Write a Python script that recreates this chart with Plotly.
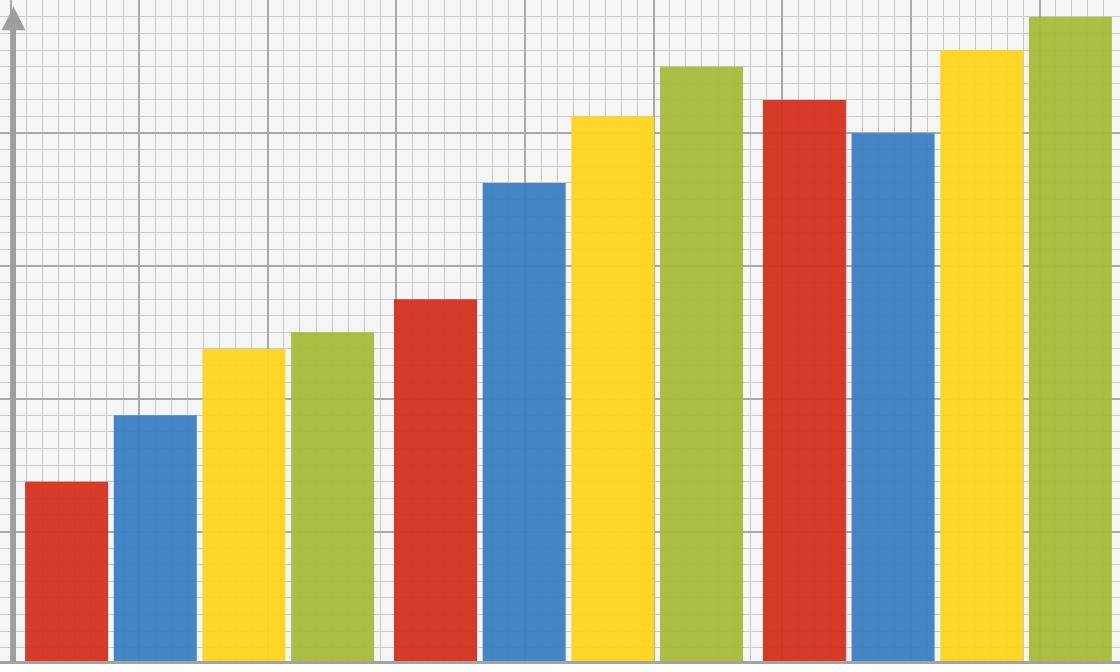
import plotly.graph_objects as go

groups = ["A", "B", "C"]
series_names = ["Red", "Blue", "Yellow", "Green"]
series_values = [
    [11, 22, 34],   # red
    [15, 29, 32],   # blue
    [19, 33, 37],   # yellow
    [20, 36, 39],   # green
]
series_colors = ["#d42f1e", "#3a80c2", "#fdd51c", "#a6bb38"]

fig = go.Figure()

for name, vals, col in zip(series_names, series_values, series_colors):
    fig.add_trace(go.Bar(
        x=groups, y=vals, name=name,
        marker=dict(color=col, line=dict(width=0)),
        opacity=0.95,
        showlegend=False,
        hoverinfo="skip",
    ))

# dummy trace so the overlaid grid axis is drawn
fig.add_trace(go.Scatter(x=[None], y=[None], xaxis="x2", showlegend=False,
                         hoverinfo="skip"))

grid_minor = "#c9c9c9"
grid_major = "#a8a8a8"

fig.update_layout(
    width=1120, height=672,
    margin=dict(l=0, r=0, t=0, b=11),
    paper_bgcolor="#ffffff",
    plot_bgcolor="#f5f5f5",
    barmode="group",
    bargap=0.0385,
    bargroupgap=0.064,
    xaxis=dict(
        range=[-0.5411, 2.4950],
        showgrid=False, showticklabels=False, ticks="",
        showline=True, linecolor="#a3a3a3", linewidth=3,
        zeroline=False, fixedrange=True,
    ),
    xaxis2=dict(
        overlaying="x", anchor="y",
        range=[-0.653, 69.0],
        showgrid=True, gridcolor=grid_major, gridwidth=1.6, dtick=8, tick0=0,
        minor=dict(showgrid=True, gridcolor=grid_minor, gridwidth=1.3, dtick=1),
        showticklabels=False, ticks="", zeroline=False, showline=False,
    ),
    yaxis=dict(
        range=[0.2, 40.02],
        showgrid=True, gridcolor=grid_major, gridwidth=1.6, dtick=8, tick0=0,
        minor=dict(showgrid=True, gridcolor=grid_minor, gridwidth=1.3, dtick=1),
        showticklabels=False, ticks="", zeroline=False, showline=False,
    ),
)

# vertical axis drawn as an arrow
fig.add_annotation(
    xref="paper", yref="paper",
    x=13.5 / 1120, y=0.99,
    ax=0, ay=657,
    text="", showarrow=True,
    arrowhead=2, arrowsize=0.95, arrowwidth=5, arrowcolor="#9e9e9e",
    standoff=0,
)

# drop the default page margin so the figure sits at the window corner
fig.write_html("out.html", config={"displayModeBar": False},
               post_script="document.body.style.margin='0';")
